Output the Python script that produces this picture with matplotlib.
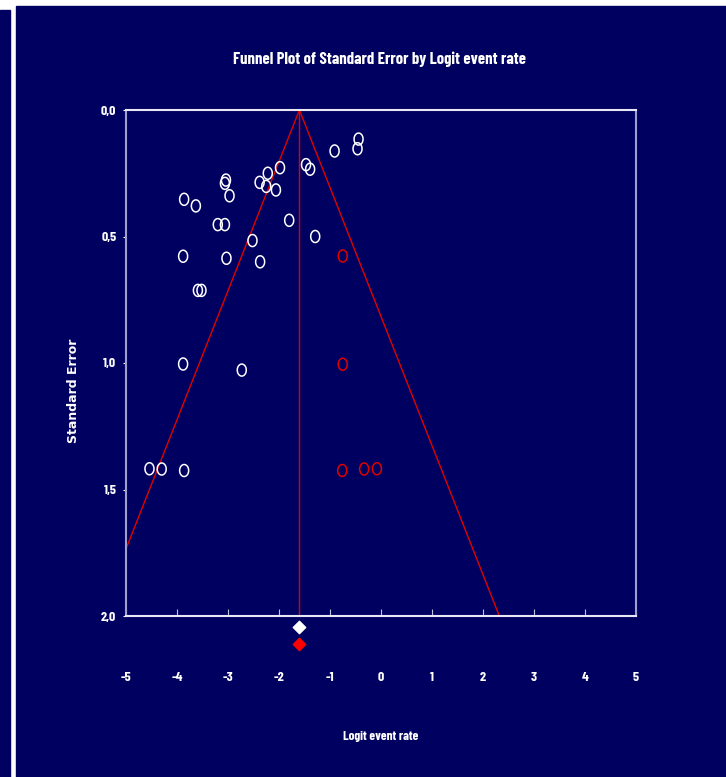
import matplotlib.pyplot as plt
import matplotlib.patches as mpatches
from matplotlib.path import Path
import numpy as np

# Données
obs_logit = [-0.44, -0.46, -0.91, -1.47, -1.39, -1.98, -2.22, -2.38, -2.25, -2.06,
             -3.04, -3.06, -2.97, -3.86, -3.63, -1.80, -3.20, -3.06, -1.29, -2.52,
             -3.88, -3.03, -2.37, -3.59, -3.52, -3.88, -2.73, -4.54, -4.30, -3.86]
obs_se = [0.115, 0.153, 0.162, 0.216, 0.234, 0.228, 0.250, 0.286, 0.302, 0.316,
          0.277, 0.290, 0.339, 0.353, 0.379, 0.436, 0.453, 0.453, 0.500, 0.516,
          0.578, 0.586, 0.600, 0.713, 0.713, 1.004, 1.028, 1.418, 1.419, 1.425]
imp_logit = [-0.75, -0.75, -0.76, -0.33, -0.08]
imp_se = [0.577, 1.005, 1.425, 1.419, 1.418]
mean_obs = -1.6
mean_imp = -1.6
x_ticks = [-5, -4, -3, -2, -1, 0, 1, 2, 3, 4, 5]
y_ticks = [0.0, 0.5, 1.0, 1.5, 2.0]

navy = '#000060'
red = '#e00000'
narrow = ['Barlow Condensed', 'Liberation Sans Narrow', 'Liberation Sans', 'DejaVu Sans']

# marqueur ellipse (cercle un peu plus haut que large)
t = np.linspace(0, 2 * np.pi, 40)
ell = Path(np.column_stack([0.75 * np.cos(t), np.sin(t)]))

fig = plt.figure(figsize=(7.26, 7.77), dpi=100, facecolor='white')
fig.patches.append(mpatches.Rectangle((16 / 726, 0), 1, 1 - 6 / 777,
                                      transform=fig.transFigure, color=navy, zorder=-5))
fig.patches.append(mpatches.Rectangle((0, 0), 10 / 726, 1 - 10 / 777,
                                      transform=fig.transFigure, color=navy, zorder=-5))

ax = fig.add_axes([126 / 726, 1 - 616 / 777, 510 / 726, 506 / 777])
ax.set_facecolor(navy)
ax.set_xlim(-5, 5)
ax.set_ylim(2.0, 0.0)

# entonnoir
se_line = np.array([0, 2.0])
ax.plot([mean_obs, mean_obs], [0, 2.0], color=red, lw=1)
ax.plot(mean_obs - 1.96 * se_line, se_line, color=red, lw=1)
ax.plot(mean_obs + 1.96 * se_line, se_line, color=red, lw=1)

ax.scatter(obs_logit, obs_se, marker=ell, s=75, facecolors='none',
           edgecolors='white', linewidths=1.1, zorder=3)
ax.scatter(imp_logit, imp_se, marker=ell, s=75, facecolors='none',
           edgecolors=red, linewidths=1.1, zorder=3)

# losanges (estimations combinées)
ax.scatter([mean_obs], [2.043], marker='D', s=40, color='white', clip_on=False, zorder=4)
ax.scatter([mean_imp], [2.11], marker='D', s=40, color='#ff0000', clip_on=False, zorder=4)

for s in ['top', 'bottom']:
    ax.spines[s].set_color('#e8e8f4')
for s in ['left', 'right']:
    ax.spines[s].set_color('#a0a0d0')
for s in ax.spines.values():
    s.set_linewidth(1.5)

ax.set_xticks(x_ticks)
ax.set_xticklabels([str(v) for v in x_ticks], family=narrow, fontweight='bold',
                   fontsize=10, color='white')
ax.set_yticks(y_ticks)
ax.set_yticklabels([f'{v:.1f}'.replace('.', ',') for v in y_ticks], family=narrow,
                   fontweight='bold', fontsize=10, color='white')
ax.tick_params(axis='x', direction='in', length=5, color='#c0c0e0', pad=40)
ax.tick_params(axis='y', direction='out', length=2, color='white', pad=5)

ax.text(0.5, -0.238, 'Logit event rate', transform=ax.transAxes, family=narrow,
        fontweight='bold', fontsize=9.5, color='white', ha='center', va='center')
ax.set_ylabel('Standard Error', family='DejaVu Sans', fontweight='bold', fontsize=9,
              color='white')
ax.yaxis.set_label_coords(-0.09, 0.445)
fig.text(380 / 726, 1 - 59 / 777, 'Funnel Plot of Standard Error by Logit event rate',
         family=narrow, fontweight='bold', fontsize=12, color='white',
         ha='center', va='center')

fig.savefig('out.png', dpi=100, facecolor='white')
